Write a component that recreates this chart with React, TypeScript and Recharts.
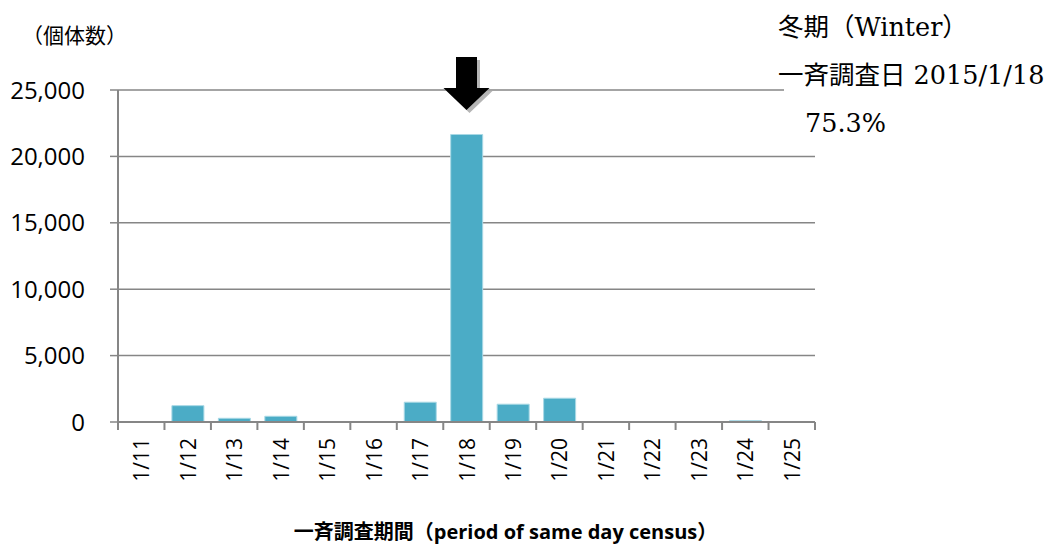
import { Bar, BarChart, CartesianGrid, Label, ReferenceDot, XAxis, YAxis } from 'recharts';

// 一斉調査期間 (Winter 2015) — individuals counted per day
const days = ['1/11', '1/12', '1/13', '1/14', '1/15', '1/16', '1/17', '1/18', '1/19', '1/20', '1/21', '1/22', '1/23', '1/24', '1/25'];
const counts = [0, 1230, 280, 430, 0, 0, 1490, 21650, 1340, 1790, 0, 0, 0, 100, 0];
const yTicks = [0, 5000, 10000, 15000, 20000, 25000];
const censusDay = '1/18';
const noteLines = ['冬期（Winter）', '一斉調査日 2015/1/18', '75.3%'];

const data = days.map((d, i) => ({ day: d, count: counts[i] }));

const W = 1053;
const H = 546;
const PLOT_W = 697;
const AXIS = '#868686';
const SANS = '"Open Sans", "Noto Sans CJK JP", sans-serif';
const SERIF = '"DejaVu Serif", "Noto Sans CJK JP", serif';

// Excel style: tick marks between categories, labels rotated -90
function DayTick(props: any) {
  const { x, y, payload, index } = props;
  const band = PLOT_W / days.length;
  const top = y - 16;
  return (
    <g>
      <line x1={x - band / 2} x2={x - band / 2} y1={top} y2={top + 8} stroke={AXIS} strokeWidth={2} />
      {index === days.length - 1 && (
        <line x1={x + band / 2} x2={x + band / 2} y1={top} y2={top + 8} stroke={AXIS} strokeWidth={2} />
      )}
      <text
        x={x}
        y={y}
        transform={`rotate(-90, ${x}, ${y})`}
        textAnchor="end"
        dominantBaseline="central"
        fontFamily={SANS}
        fontSize={21}
        fill="#000"
      >
        {payload.value}
      </text>
    </g>
  );
}

function DownArrow(props: any) {
  const { cx, cy } = props;
  const pts = (dx: number, dy: number) =>
    [
      [cx - 10.5, cy - 33],
      [cx + 10.5, cy - 33],
      [cx + 10.5, cy - 2],
      [cx + 23, cy - 2],
      [cx, cy + 20],
      [cx - 23, cy - 2],
      [cx - 10.5, cy - 2],
    ]
      .map(([px, py]) => `${px + dx},${py + dy}`)
      .join(' ');
  return (
    <g>
      <polygon points={pts(3, 3)} fill="#b5b5b5" />
      <polygon points={pts(0, 0)} fill="#000" />
    </g>
  );
}

export default function App() {
  return (
    <div style={{ position: 'absolute', left: 0, top: 0, width: W, height: H, background: '#fff' }}>
      <BarChart width={W} height={H} data={data} margin={{ top: 90, right: 238, bottom: 0, left: 0 }} barCategoryGap="16%">
        <CartesianGrid vertical={false} stroke={AXIS} strokeWidth={1.5} />
        <XAxis
          dataKey="day"
          height={124}
          tickSize={8}
          tickMargin={8}
          tickLine={false}
          axisLine={{ stroke: AXIS, strokeWidth: 2 }}
          tick={<DayTick />}
          interval={0}
        >
          <Label
            value="一斉調査期間（period of same day census）"
            position="insideBottom"
            offset={7}
            dx={39}
            style={{ fontFamily: SANS, fontSize: 20, fontWeight: 700, fill: '#000' }}
          />
        </XAxis>
        <YAxis
          width={118}
          domain={[0, 25000]}
          ticks={yTicks}
          interval={0}
          tickSize={8}
          tickMargin={25}
          tickLine={{ stroke: AXIS, strokeWidth: 1.5 }}
          axisLine={{ stroke: AXIS, strokeWidth: 2 }}
          tick={{ fontFamily: SANS, fontSize: 24, fill: '#000' }}
          tickFormatter={(v: number) => v.toLocaleString('en-US')}
        />
        <Bar dataKey="count" fill="#4BACC6" stroke="#a8d8e5" strokeWidth={1} isAnimationActive={false} />
        <ReferenceDot x={censusDay} y={25000} r={0} shape={<DownArrow />} ifOverflow="visible" />
        <text x={22} y={43} fontFamily={SANS} fontSize={21} fill="#000">（個体数）</text>
        <rect x={784} y={60} width={W - 784} height={80} fill="#fff" />
        {noteLines.map((t, i) => (
          <text key={t} x={i === 2 ? 805 : 778} y={36 + i * 48} fontFamily={SERIF} fontSize={25.5} fill="#000">
            {t}
          </text>
        ))}
      </BarChart>
    </div>
  );
}
